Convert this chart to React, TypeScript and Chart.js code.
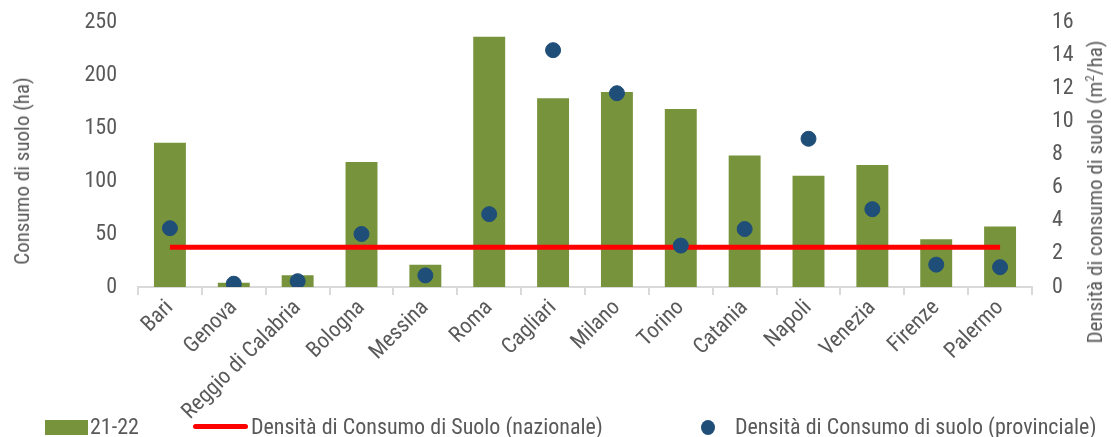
import React, { useEffect, useRef } from "react";
import { Chart, registerables } from "chart.js";

Chart.register(...registerables);

const categories = ["Bari", "Genova", "Reggio di Calabria", "Bologna", "Messina", "Roma", "Cagliari", "Milano", "Torino", "Catania", "Napoli", "Venezia", "Firenze", "Palermo"];
const consumo2122 = [136, 4, 11, 118, 21, 236, 178, 184, 168, 124, 105, 115, 45, 57];
const densitaProvinciale = [3.55, 0.2, 0.35, 3.2, 0.7, 4.4, 14.3, 11.7, 2.5, 3.5, 8.95, 4.7, 1.35, 1.2];
const densitaNazionale = 2.4;
const leftTicks = [0, 50, 100, 150, 200, 250];
const rightTicks = [0, 2, 4, 6, 8, 10, 12, 14, 16];

const FONT = "'Liberation Sans Narrow', 'Arial Narrow', 'Roboto Condensed', 'Liberation Sans', Arial, sans-serif";
const GREEN = "#77933c";
const BLUE = "#1f4e79";
const RED = "#ff0000";
const TEXT = "#595959";

export default function App() {
  const ref = useRef<HTMLCanvasElement | null>(null);
  useEffect(() => {
    if (!ref.current) return;
    const chart = new Chart(ref.current, {
      data: {
        labels: categories,
        datasets: [
          {
            type: "line",
            label: "Densità di Consumo di suolo (provinciale)",
            data: densitaProvinciale,
            yAxisID: "y2",
            showLine: false,
            pointRadius: 7.5,
            pointBackgroundColor: BLUE,
            pointBorderColor: BLUE,
            order: 0,
          },
          {
            type: "line",
            label: "Densità di Consumo di Suolo (nazionale)",
            data: categories.map(() => densitaNazionale),
            yAxisID: "y2",
            borderColor: RED,
            borderWidth: 5,
            pointRadius: 0,
            order: 1,
          },
          {
            type: "bar",
            label: "21-22",
            data: consumo2122,
            yAxisID: "y",
            backgroundColor: GREEN,
            barPercentage: 0.5,
            categoryPercentage: 1,
            order: 2,
          },
        ],
      },
      options: {
        animation: false,
        responsive: true,
        maintainAspectRatio: false,
        layout: { padding: { top: 22, left: 0, right: 0, bottom: 0 } },
        plugins: { legend: { display: false }, tooltip: { enabled: false } },
        scales: {
          x: {
            offset: true,
            grid: { display: true, drawOnChartArea: false, offset: true, color: "#d9d9d9", tickLength: 8, lineWidth: 2 },
            border: { display: true, color: "#d9d9d9", width: 2 },
            ticks: { color: TEXT, font: { family: FONT, size: 22 }, minRotation: 45, maxRotation: 45, autoSkip: false, padding: 0 },
            afterFit: (s: any) => { s.height = 150; },
          },
          y: {
            position: "left",
            min: 0,
            max: 250,
            afterBuildTicks: (s: any) => { s.ticks = leftTicks.map((v) => ({ value: v })); },
            grid: { display: false },
            border: { display: false },
            ticks: { color: TEXT, font: { family: FONT, size: 22 }, padding: 13 },
            afterFit: (s: any) => { s.width = 138; s.paddingTop = 0; },
          },
          y2: {
            position: "right",
            min: 0,
            max: 16,
            afterBuildTicks: (s: any) => { s.ticks = rightTicks.map((v) => ({ value: v })); },
            grid: { display: false },
            border: { display: false },
            ticks: { color: TEXT, font: { family: FONT, size: 22 }, padding: 12 },
            afterFit: (s: any) => { s.width = 79; s.paddingTop = 0; },
          },
        },
      },
    });
    return () => chart.destroy();
  }, []);

  const legendText: React.CSSProperties = { position: "absolute", top: 414, fontFamily: FONT, fontSize: 22, color: TEXT, lineHeight: "26px", whiteSpace: "nowrap" };
  const titleStyle: React.CSSProperties = { position: "absolute", fontFamily: FONT, fontSize: 21, color: TEXT, whiteSpace: "nowrap", lineHeight: "24px", transform: "translate(-50%, -50%) rotate(-90deg)" };
  return (
    <div style={{ position: "fixed", left: 0, top: 0, width: 1111, height: 437, background: "#fff" }}>
      <div style={{ position: "absolute", left: 0, top: 0, width: 1111, height: 437 }}>
        <canvas ref={ref} />
      </div>
      <div style={{ ...titleStyle, left: 22, top: 171 }}>Consumo di suolo (ha)</div>
      <div style={{ ...titleStyle, left: 1095, top: 192 }}>Densità di consumo di suolo (m<sup style={{ fontSize: 13, lineHeight: 0 }}>2</sup>/ha)</div>
      <div style={{ position: "absolute", left: 45, top: 420, width: 43, height: 15, background: GREEN }} />
      <div style={{ ...legendText, left: 90 }}>21-22</div>
      <div style={{ position: "absolute", left: 193, top: 424, width: 55, height: 5, borderRadius: 3, background: RED }} />
      <div style={{ ...legendText, left: 251 }}>Densità di Consumo di Suolo (nazionale)</div>
      <div style={{ position: "absolute", left: 701, top: 420, width: 14, height: 15, borderRadius: "50%", background: BLUE }} />
      <div style={{ ...legendText, left: 735 }}>Densità di Consumo di suolo (provinciale)</div>
    </div>
  );
}
